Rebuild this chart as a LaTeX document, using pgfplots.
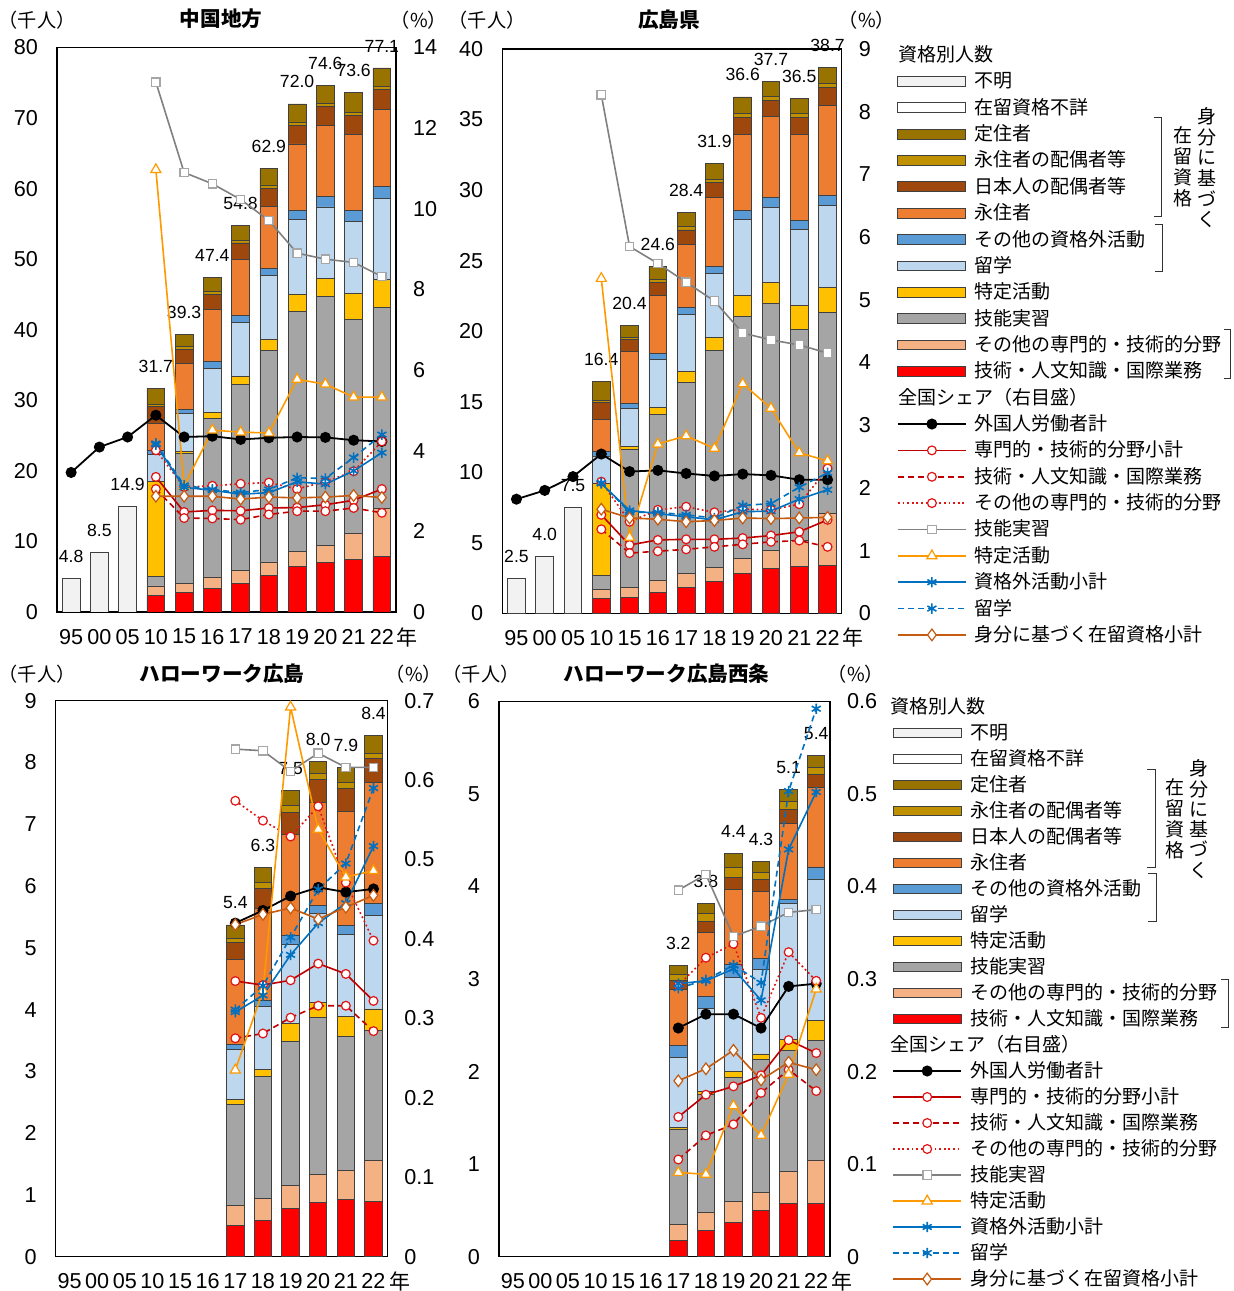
\documentclass[border=0pt]{standalone}
\usepackage{pgfplots}
\pgfplotsset{compat=1.18}
\usepackage{pgfplotstable}
\usepackage{fontspec}
\setmainfont{Liberation Sans}
\newfontfamily\jp{Noto Sans CJK JP}

\definecolor{cFM}{RGB}{242,242,242}
\definecolor{cTJ}{RGB}{153,115,0}
\definecolor{cES}{RGB}{191,144,0}
\definecolor{cNH}{RGB}{158,72,14}
\definecolor{cEJ}{RGB}{237,125,49}
\definecolor{cOS}{RGB}{91,155,213}
\definecolor{cRY}{RGB}{189,215,238}
\definecolor{cTK}{RGB}{255,192,0}
\definecolor{cGN}{RGB}{165,165,165}
\definecolor{cSO}{RGB}{244,177,131}
\definecolor{cGJ}{RGB}{255,0,0}
\definecolor{lRed}{RGB}{192,0,0}
\definecolor{lRedD}{RGB}{225,20,20}
\definecolor{lGray}{RGB}{128,128,128}
\definecolor{lGrayM}{RGB}{166,166,166}
\definecolor{lOrg}{RGB}{255,153,0}
\definecolor{lBlue}{RGB}{0,112,192}
\definecolor{lBrn}{RGB}{197,90,17}

\newcommand\tickfont{\fontsize{10.8pt}{12pt}\selectfont}
\newcommand\labfont{\fontsize{8.8pt}{10pt}\selectfont}
\newcommand\legfont{\jp\fontsize{9.5pt}{11pt}\selectfont}
\newcommand\unitfont{\jp\fontsize{9.6pt}{12pt}\selectfont}
\newcommand\ttlfont{\jp\bfseries\fontsize{10.3pt}{12pt}\selectfont}

\pgfplotsset{
 bb/.style={fill=#1, draw=black!75, line width=0.45pt},
 common/.style={scale only axis, anchor=south west, xmin=-0.5, xmax=11.5, ymin=0,
   major tick length=0pt, tick label style={font=\tickfont},
   /pgf/number format/assume math mode=true, axis line style={line width=0.7pt}},
 barax/.style={common, ybar stacked, bar width=0.63, xtick={0,...,11},
   xticklabels={95,00,05,10,15,16,17,18,19,20,21,22},
   xticklabel style={yshift=-5pt}, yticklabel style={xshift=-6pt}},
 linax/.style={common, axis y line*=right, axis x line=none, yticklabel style={xshift=5pt}, clip=false},
 labax/.style={common, hide axis, clip=false},
 lab/.style={draw=none, mark=none, nodes near coords, point meta=explicit symbolic,
   nodes near coords style={font=\labfont, anchor=south, inner sep=0pt, yshift=7.7pt}},
 sBlack/.style={black, line width=0.9pt, mark=*, mark size=2.3pt, mark options={solid, fill=black}},
 sRed/.style={lRed, line width=0.8pt, mark=*, mark size=2.2pt, mark options={solid, fill=white, draw=lRedD, line width=0.6pt}},
 sRedDash/.style={sRed, dash pattern=on 3pt off 2pt},
 sRedDot/.style={sRed, color=lRedD, dash pattern=on 0.9pt off 1.4pt},
 sGray/.style={lGray, line width=0.8pt, mark=square*, mark size=2.1pt, mark options={solid, fill=white, draw=lGrayM, line width=0.6pt}},
 sOrg/.style={lOrg, line width=0.8pt, mark=triangle*, mark size=2.9pt, mark options={solid, fill=white, draw=lOrg, line width=0.6pt}},
 sBlue/.style={lBlue, line width=0.8pt, mark=asterisk, mark size=2.6pt, mark options={solid}},
 sBlueDash/.style={sBlue, dash pattern=on 3pt off 2pt},
 sBrn/.style={lBrn, line width=0.8pt, mark=diamond*, mark size=2.9pt, mark options={solid, fill=white, draw=lBrn, line width=0.6pt}},
 barleg/.style={legend image code/.code={\draw[##1] (0pt,-2.45pt) rectangle (34pt,2.45pt);}},
 legax/.style={hide axis, scale only axis, width=10pt, height=10pt, anchor=north west,
   xmin=0, xmax=1, ymin=0, ymax=1,
   legend image code/.code={\draw[mark repeat=2,mark phase=2,##1] plot coordinates {(0pt,0pt) (17pt,0pt) (34pt,0pt)};},
   legend cell align=left,
   legend style={at={(0,1)}, anchor=north west, draw=none, fill=none, inner sep=0pt, outer sep=0pt,
     font=\legfont, column sep=4pt, row sep=#1,
     nodes={inner sep=0pt, text height=8.5pt, text depth=2pt}}},
}

\newcommand\LegendEntries[1]{%
 \addlegendimage{empty legend}\addlegendentry{\hspace*{-#1}資格別人数}
 \addlegendimage{barleg, bb=cFM}\addlegendentry{不明}
 \addlegendimage{barleg, bb=white}\addlegendentry{在留資格不詳}
 \addlegendimage{barleg, bb=cTJ}\addlegendentry{定住者}
 \addlegendimage{barleg, bb=cES}\addlegendentry{永住者の配偶者等}
 \addlegendimage{barleg, bb=cNH}\addlegendentry{日本人の配偶者等}
 \addlegendimage{barleg, bb=cEJ}\addlegendentry{永住者}
 \addlegendimage{barleg, bb=cOS}\addlegendentry{その他の資格外活動}
 \addlegendimage{barleg, bb=cRY}\addlegendentry{留学}
 \addlegendimage{barleg, bb=cTK}\addlegendentry{特定活動}
 \addlegendimage{barleg, bb=cGN}\addlegendentry{技能実習}
 \addlegendimage{barleg, bb=cSO}\addlegendentry{その他の専門的・技術的分野}
 \addlegendimage{barleg, bb=cGJ}\addlegendentry{技術・人文知識・国際業務}
 \addlegendimage{empty legend}\addlegendentry{\hspace*{-#1}全国シェア（右目盛）}
 \addlegendimage{sBlack}\addlegendentry{外国人労働者計}
 \addlegendimage{sRed}\addlegendentry{専門的・技術的分野小計}
 \addlegendimage{sRedDash}\addlegendentry{技術・人文知識・国際業務}
 \addlegendimage{sRedDot}\addlegendentry{その他の専門的・技術的分野}
 \addlegendimage{sGray}\addlegendentry{技能実習}
 \addlegendimage{sOrg}\addlegendentry{特定活動}
 \addlegendimage{sBlue}\addlegendentry{資格外活動小計}
 \addlegendimage{sBlueDash}\addlegendentry{留学}
 \addlegendimage{sBrn}\addlegendentry{身分に基づく在留資格小計}
}

\newcommand\Bars[1]{%
 \addplot[bb=cFM] table[x=x,y=fm]{#1};
 \addplot[bb=cGJ] table[x=x,y=gj]{#1};
 \addplot[bb=cSO] table[x=x,y=so]{#1};
 \addplot[bb=cGN] table[x=x,y=gn]{#1};
 \addplot[bb=cTK] table[x=x,y=tk]{#1};
 \addplot[bb=cRY] table[x=x,y=ry]{#1};
 \addplot[bb=cOS] table[x=x,y=os]{#1};
 \addplot[bb=cEJ] table[x=x,y=ej]{#1};
 \addplot[bb=cNH] table[x=x,y=nh]{#1};
 \addplot[bb=cES] table[x=x,y=es]{#1};
 \addplot[bb=cTJ] table[x=x,y=tj]{#1};
}

% 中国地方
\pgfplotstableread{
x fm gj so gn tk ry os ej nh es tj
0 4.8 0 0 0 0 0 0 0 0 0 0
1 8.5 0 0 0 0 0 0 0 0 0 0
2 14.9 0 0 0 0 0 0 0 0 0 0
3 0 2.36 1.33 1.37 13.47 3.83 0.57 3.78 2.46 0.24 2.29
4 0 2.74 1.28 18.44 0.33 5.34 0.62 6.47 1.99 0.38 1.71
5 0 3.31 1.65 22.46 0.81 6.29 0.94 7.38 2.22 0.33 2.01
6 0 4.02 1.89 26.34 1.08 7.76 0.90 7.94 2.37 0.42 2.08
7 0 5.11 1.98 29.93 1.61 9.03 1.09 8.74 2.51 0.52 2.38
8 0 6.48 2.03 34.14 2.40 10.60 1.32 9.36 2.65 0.47 2.55
9 0 7.00 2.46 35.27 2.60 10.07 1.51 10.03 2.65 0.42 2.59
10 0 7.47 3.64 30.40 3.69 10.16 1.52 10.73 2.79 0.42 2.78
11 0 7.90 6.76 28.55 3.97 11.36 1.70 10.96 2.84 0.47 2.59
}\barsA
% 広島県
\pgfplotstableread{
x fm gj so gn tk ry os ej nh es tj
0 2.5 0 0 0 0 0 0 0 0 0 0
1 4.0 0 0 0 0 0 0 0 0 0 0
2 7.5 0 0 0 0 0 0 0 0 0 0
3 0 1.02 0.68 0.95 6.57 1.89 0.36 2.29 1.20 0.12 1.32
4 0 1.13 0.71 9.79 0.19 2.72 0.31 3.71 0.87 0.14 0.83
5 0 1.47 0.85 11.79 0.50 3.36 0.42 4.17 0.87 0.24 0.93
6 0 1.84 0.95 13.59 0.76 4.07 0.48 4.48 1.00 0.23 1.00
7 0 2.25 1.01 15.35 0.94 4.55 0.46 4.89 1.10 0.23 1.12
8 0 2.84 1.06 17.14 1.47 5.41 0.64 5.39 1.20 0.26 1.19
9 0 3.19 1.25 17.53 1.46 5.34 0.71 5.72 1.18 0.23 1.09
10 0 3.31 1.84 14.94 1.73 5.36 0.66 6.13 1.20 0.28 1.05
11 0 3.38 3.71 14.26 1.77 5.77 0.73 6.40 1.25 0.31 1.12
}\barsB
% ハローワーク広島
\pgfplotstableread{
x fm gj so gn tk ry os ej nh es tj
0 0 0 0 0 0 0 0 0 0 0 0
1 0 0 0 0 0 0 0 0 0 0 0
2 0 0 0 0 0 0 0 0 0 0 0
3 0 0 0 0 0 0 0 0 0 0 0
4 0 0 0 0 0 0 0 0 0 0 0
5 0 0 0 0 0 0 0 0 0 0 0
6 0 0.50 0.33 1.64 0.07 0.82 0.08 1.37 0.27 0.07 0.22
7 0 0.59 0.35 1.97 0.12 1.02 0.09 1.50 0.32 0.09 0.25
8 0 0.78 0.37 2.34 0.29 1.28 0.14 1.64 0.35 0.11 0.24
9 0 0.88 0.45 2.54 0.25 1.43 0.14 1.67 0.37 0.09 0.20
10 0 0.92 0.48 2.17 0.32 1.32 0.15 1.84 0.38 0.10 0.24
11 0 0.90 0.65 2.11 0.35 1.52 0.19 1.96 0.38 0.09 0.28
}\barsC
% ハローワーク広島西条
\pgfplotstableread{
x fm gj so gn tk ry os ej nh es tj
0 0 0 0 0 0 0 0 0 0 0 0
1 0 0 0 0 0 0 0 0 0 0 0
2 0 0 0 0 0 0 0 0 0 0 0
3 0 0 0 0 0 0 0 0 0 0 0
4 0 0 0 0 0 0 0 0 0 0 0
5 0 0 0 0 0 0 0 0 0 0 0
6 0 0.18 0.17 1.03 0.02 0.75 0.13 0.61 0.09 0.07 0.10
7 0 0.28 0.20 1.27 0.03 0.90 0.13 0.69 0.12 0.09 0.11
8 0 0.37 0.23 1.34 0.06 1.02 0.14 0.81 0.13 0.10 0.16
9 0 0.50 0.19 1.44 0.06 0.91 0.12 0.73 0.13 0.07 0.12
10 0 0.58 0.34 1.31 0.12 1.47 0.04 0.82 0.15 0.09 0.13
11 0 0.57 0.47 1.30 0.21 1.53 0.13 0.86 0.14 0.08 0.12
}\barsD

\begin{document}
\begin{tikzpicture}
% ================= Panel 1: 中国地方 =================
\begin{axis}[barax, at={(28.5pt,339.5pt)}, width=169.5pt, height=282.25pt, ymax=80, ytick={0,10,...,80}]
\Bars{\barsA}
\end{axis}
\begin{axis}[labax, at={(28.5pt,339.5pt)}, width=169.5pt, height=282.25pt, ymax=80]
\addplot[lab] table[x=x,y=y,meta=l]{
x y l
0 4.8 4.8
1 8.5 8.5
2 14.9 14.9
3 31.7 31.7
4 39.3 39.3
5 47.4 47.4
6 54.8 54.8
7 62.9 62.9
8 72.0 72.0
9 74.6 74.6
10 73.6 73.6
11 77.1 77.1
};
\end{axis}
\begin{axis}[linax, at={(28.5pt,339.5pt)}, width=169.5pt, height=282.25pt, ymax=14, ytick={0,2,...,14}]
\addplot[sBlack] coordinates {(0,3.46)(1,4.09)(2,4.34)(3,4.88)(4,4.34)(5,4.36)(6,4.28)(7,4.32)(8,4.34)(9,4.33)(10,4.26)(11,4.23)};
\addplot[sRed] coordinates {(3,3.35)(4,2.48)(5,2.52)(6,2.51)(7,2.58)(8,2.59)(9,2.66)(10,2.77)(11,3.05)};
\addplot[sRedDash] coordinates {(3,3.05)(4,2.33)(5,2.32)(6,2.29)(7,2.42)(8,2.50)(9,2.50)(10,2.58)(11,2.46)};
\addplot[sRedDot] coordinates {(3,4.01)(4,3.10)(5,3.13)(6,3.18)(7,3.21)(8,3.05)(9,3.23)(10,3.49)(11,4.23)};
\addplot[sGray] coordinates {(3,13.14)(4,10.90)(5,10.62)(6,10.23)(7,9.71)(8,8.90)(9,8.75)(10,8.67)(11,8.32)};
\addplot[sOrg] coordinates {(3,10.97)(4,3.13)(5,4.51)(6,4.46)(7,4.44)(8,5.77)(9,5.65)(10,5.33)(11,5.33)};
\addplot[sBlue] coordinates {(3,4.15)(4,3.09)(5,3.02)(6,2.92)(7,2.96)(8,3.23)(9,3.17)(10,3.50)(11,3.95)};
\addplot[sBlueDash] coordinates {(3,4.18)(4,3.14)(5,3.04)(6,2.96)(7,3.04)(8,3.33)(9,3.31)(10,3.83)(11,4.40)};
\addplot[sBrn] coordinates {(3,2.87)(4,2.87)(5,2.87)(6,2.80)(7,2.85)(8,2.83)(9,2.85)(10,2.89)(11,2.84)};
\end{axis}

% ================= Panel 2: 広島県 =================
\begin{axis}[barax, at={(251.15pt,338.85pt)}, width=169.7pt, height=282.15pt, ymax=40, ytick={0,5,...,40}]
\Bars{\barsB}
\end{axis}
\begin{axis}[labax, at={(251.15pt,338.85pt)}, width=169.7pt, height=282.15pt, ymax=40]
\addplot[lab] table[x=x,y=y,meta=l]{
x y l
0 2.5 2.5
1 4.0 4.0
2 7.5 7.5
3 16.4 16.4
4 20.4 20.4
5 24.6 24.6
6 28.4 28.4
7 31.9 31.9
8 36.6 36.6
9 37.7 37.7
10 36.5 36.5
11 38.7 38.7
};
\end{axis}
\begin{axis}[linax, at={(251.15pt,338.85pt)}, width=169.7pt, height=282.15pt, ymax=9, ytick={0,1,...,9}]
\addplot[sBlack] coordinates {(0,1.82)(1,1.96)(2,2.18)(3,2.54)(4,2.26)(5,2.28)(6,2.23)(7,2.19)(8,2.22)(9,2.20)(10,2.13)(11,2.13)};
\addplot[sRed] coordinates {(3,1.57)(4,1.09)(5,1.17)(6,1.18)(7,1.18)(8,1.20)(9,1.24)(10,1.30)(11,1.49)};
\addplot[sRedDash] coordinates {(3,1.34)(4,0.96)(5,0.99)(6,1.02)(7,1.06)(8,1.10)(9,1.14)(10,1.16)(11,1.06)};
\addplot[sRedDot] coordinates {(3,2.10)(4,1.46)(5,1.65)(6,1.70)(7,1.61)(8,1.66)(9,1.65)(10,1.74)(11,2.31)};
\addplot[sGray] coordinates {(3,8.27)(4,5.85)(5,5.58)(6,5.28)(7,4.98)(8,4.47)(9,4.36)(10,4.28)(11,4.15)};
\addplot[sOrg] coordinates {(3,5.34)(4,1.21)(5,2.70)(6,2.83)(7,2.63)(8,3.66)(9,3.27)(10,2.56)(11,2.43)};
\addplot[sBlue] coordinates {(3,2.07)(4,1.64)(5,1.59)(6,1.54)(7,1.49)(8,1.62)(9,1.63)(10,1.82)(11,1.97)};
\addplot[sBlueDash] coordinates {(3,2.08)(4,1.61)(5,1.61)(6,1.57)(7,1.52)(8,1.72)(9,1.75)(10,2.01)(11,2.24)};
\addplot[sBrn] coordinates {(3,1.66)(4,1.52)(5,1.50)(6,1.46)(7,1.48)(8,1.52)(9,1.51)(10,1.52)(11,1.53)};
\end{axis}

% ================= Panel 3: ハローワーク広島 =================
\begin{axis}[barax, at={(27.85pt,17.15pt)}, width=165.8pt, height=278pt, ymax=9, ytick={0,1,...,9}]
\Bars{\barsC}
\end{axis}
\begin{axis}[labax, at={(27.85pt,17.15pt)}, width=165.8pt, height=278pt, ymax=9]
\addplot[lab] table[x=x,y=y,meta=l]{
x y l
6 5.37 5.4
7 6.30 6.3
8 7.54 7.5
9 8.02 8.0
10 7.92 7.9
11 8.43 8.4
};
\end{axis}
\begin{axis}[linax, at={(27.85pt,17.15pt)}, width=165.8pt, height=278pt, ymax=0.7, ytick={0,0.1,0.2,0.3,0.4,0.5,0.6,0.7}]
\addplot[sBlack] coordinates {(6,0.420)(7,0.436)(8,0.454)(9,0.465)(10,0.459)(11,0.463)};
\addplot[sRed] coordinates {(6,0.347)(7,0.342)(8,0.348)(9,0.369)(10,0.356)(11,0.322)};
\addplot[sRedDash] coordinates {(6,0.275)(7,0.281)(8,0.301)(9,0.316)(10,0.316)(11,0.284)};
\addplot[sRedDot] coordinates {(6,0.574)(7,0.549)(8,0.529)(9,0.567)(10,0.471)(11,0.398)};
\addplot[sGray] coordinates {(6,0.639)(7,0.637)(8,0.611)(9,0.634)(10,0.616)(11,0.616)};
\addplot[sOrg] coordinates {(6,0.235)(7,0.335)(8,0.692)(9,0.538)(10,0.478)(11,0.486)};
\addplot[sBlue] coordinates {(6,0.308)(7,0.329)(8,0.380)(9,0.420)(10,0.445)(11,0.517)};
\addplot[sBlueDash] coordinates {(6,0.311)(7,0.341)(8,0.402)(9,0.4625)(10,0.495)(11,0.590)};
\addplot[sBrn] coordinates {(6,0.418)(7,0.431)(8,0.439)(9,0.425)(10,0.440)(11,0.455)};
\end{axis}

% ================= Panel 4: ハローワーク広島西条 =================
\begin{axis}[barax, at={(249.5pt,17.15pt)}, width=165.5pt, height=277.7pt, ymax=6, ytick={0,1,...,6}]
\Bars{\barsD}
\end{axis}
\begin{axis}[labax, at={(249.5pt,17.15pt)}, width=165.5pt, height=277.7pt, ymax=6]
\addplot[lab] table[x=x,y=y,meta=l]{
x y l
6 3.15 3.2
7 3.82 3.8
8 4.36 4.4
9 4.27 4.3
10 5.05 5.1
11 5.41 5.4
};
\end{axis}
\begin{axis}[linax, at={(249.5pt,17.15pt)}, width=165.5pt, height=277.7pt, ymax=0.6, ytick={0,0.1,0.2,0.3,0.4,0.5,0.6}]
\addplot[sBlack] coordinates {(6,0.247)(7,0.262)(8,0.262)(9,0.247)(10,0.292)(11,0.295)};
\addplot[sRed] coordinates {(6,0.151)(7,0.175)(8,0.184)(9,0.196)(10,0.234)(11,0.220)};
\addplot[sRedDash] coordinates {(6,0.105)(7,0.131)(8,0.143)(9,0.177)(10,0.202)(11,0.179)};
\addplot[sRedDot] coordinates {(6,0.293)(7,0.323)(8,0.338)(9,0.258)(10,0.329)(11,0.298)};
\addplot[sGray] coordinates {(6,0.396)(7,0.413)(8,0.346)(9,0.357)(10,0.372)(11,0.375)};
\addplot[sOrg] coordinates {(6,0.091)(7,0.089)(8,0.163)(9,0.131)(10,0.197)(11,0.289)};
\addplot[sBlue] coordinates {(6,0.295)(7,0.298)(8,0.311)(9,0.277)(10,0.440)(11,0.502)};
\addplot[sBlueDash] coordinates {(6,0.290)(7,0.299)(8,0.315)(9,0.296)(10,0.503)(11,0.592)};
\addplot[sBrn] coordinates {(6,0.190)(7,0.203)(8,0.223)(9,0.191)(10,0.210)(11,0.202)};
\end{axis}

% ================= Legends =================
\begin{axis}[legax=2.68pt, at={(448.5pt,623.25pt)}]
\LegendEntries{38pt}
\end{axis}
\begin{axis}[legax=2.5pt, at={(446.15pt,297.25pt)}]
\LegendEntries{40pt}
\end{axis}

% brackets and vertical labels, legend 1
\draw[line width=0.5pt, black!80] (576.85pt,586.8pt) -- (580.85pt,586.8pt) -- (580.85pt,537.1pt) -- (576.85pt,537.1pt);
\draw[line width=0.5pt, black!80] (577.25pt,533.2pt) -- (581.25pt,533.2pt) -- (581.25pt,509.6pt) -- (577.25pt,509.6pt);
\draw[line width=0.5pt, black!80] (611.85pt,480.85pt) -- (615.35pt,480.85pt) -- (615.35pt,456.25pt) -- (611.85pt,456.25pt);
\node[align=center, font=\jp\fontsize{9.5pt}{10.35pt}\selectfont, inner sep=0pt] at (603.35pt,561.6pt) {身\\分\\に\\基\\づ\\く};
\node[align=center, font=\jp\fontsize{9.5pt}{10.5pt}\selectfont, inner sep=0pt] at (591.35pt,562.25pt) {在\\留\\資\\格};
% legend 2
\draw[line width=0.5pt, black!80] (573.5pt,260.7pt) -- (577.5pt,260.7pt) -- (577.5pt,211.55pt) -- (573.5pt,211.55pt);
\draw[line width=0.5pt, black!80] (574pt,208.7pt) -- (578pt,208.7pt) -- (578pt,184.7pt) -- (574pt,184.7pt);
\draw[line width=0.5pt, black!80] (610.5pt,155.8pt) -- (614pt,155.8pt) -- (614pt,131.85pt) -- (610.5pt,131.85pt);
\node[align=center, font=\jp\fontsize{9.5pt}{10.13pt}\selectfont, inner sep=0pt] at (599.5pt,235.9pt) {身\\分\\に\\基\\づ\\く};
\node[align=center, font=\jp\fontsize{9.5pt}{10.5pt}\selectfont, inner sep=0pt] at (587.5pt,235.9pt) {在\\留\\資\\格};

% titles and units
\node[font=\ttlfont] at (110.5pt,636.35pt) {中国地方};
\node[font=\unitfont, inner sep=0pt] at (18.5pt,635.5pt) {（千人）};
\node[font=\unitfont, inner sep=0pt] at (209.5pt,635.5pt) {（\%）};
\node[font=\ttlfont] at (334.5pt,635.5pt) {広島県};
\node[font=\unitfont, inner sep=0pt] at (243.5pt,635.5pt) {（千人）};
\node[font=\unitfont, inner sep=0pt] at (433.5pt,635.5pt) {（\%）};
\node[font=\ttlfont] at (111pt,308.5pt) {ハローワーク広島};
\node[font=\unitfont, inner sep=0pt] at (18.5pt,308.5pt) {（千人）};
\node[font=\unitfont, inner sep=0pt] at (207pt,308.5pt) {（\%）};
\node[font=\ttlfont] at (333.25pt,308.5pt) {ハローワーク広島西条};
\node[font=\unitfont, inner sep=0pt] at (240.5pt,308.5pt) {（千人）};
\node[font=\unitfont, inner sep=0pt] at (428pt,308.5pt) {（\%）};
% 年
\node[font=\jp\fontsize{10.5pt}{12pt}\selectfont] at (203.35pt,327pt) {年};
\node[font=\jp\fontsize{10.5pt}{12pt}\selectfont] at (426.5pt,327pt) {年};
\node[font=\jp\fontsize{10.5pt}{12pt}\selectfont] at (200pt,4.8pt) {年};
\node[font=\jp\fontsize{10.5pt}{12pt}\selectfont] at (420.85pt,4.8pt) {年};

\pgfresetboundingbox
\useasboundingbox (0,0) rectangle (617pt,645.5pt);
\end{tikzpicture}
\end{document}
